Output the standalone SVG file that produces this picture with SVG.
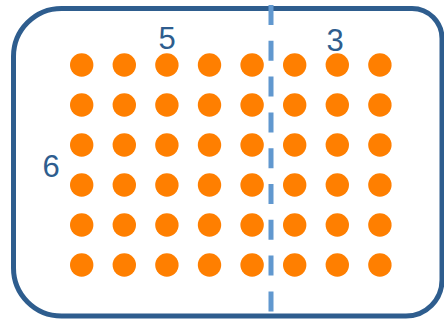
<svg xmlns="http://www.w3.org/2000/svg" width="444" height="320" viewBox="0 0 444 320">
<defs>
<style>
.frame{fill:none;stroke:#2e5d8e;stroke-width:5}
.div{fill:none;stroke:#6198cf;stroke-width:5;stroke-dasharray:20 15.8}
.dot{fill:#ff7f00}
.lbl{font-family:"Liberation Sans",Arial,sans-serif;font-size:31px;fill:#2e5d8e;text-anchor:middle}
</style>
<circle id="d" class="dot" cx="0" cy="0" r="11.7"/>
</defs>
<rect width="444" height="320" fill="#ffffff"/>
<g id="frame">
<path class="frame" d="M61.5 8.5H412A30 30 0 0 1 442 38.5V280A36 36 0 0 1 406 316H61.5A48 48 0 0 1 13.5 268V56.5A48 48 0 0 1 61.5 8.5Z"/>
</g>
<g id="dots">
<g transform="translate(0,65)"><use href="#d" x="81.7"/><use href="#d" x="124.3"/><use href="#d" x="166.9"/><use href="#d" x="209.5"/><use href="#d" x="252.1"/><use href="#d" x="294.7"/><use href="#d" x="337.3"/><use href="#d" x="379.9"/></g>
<g transform="translate(0,105)"><use href="#d" x="81.7"/><use href="#d" x="124.3"/><use href="#d" x="166.9"/><use href="#d" x="209.5"/><use href="#d" x="252.1"/><use href="#d" x="294.7"/><use href="#d" x="337.3"/><use href="#d" x="379.9"/></g>
<g transform="translate(0,145)"><use href="#d" x="81.7"/><use href="#d" x="124.3"/><use href="#d" x="166.9"/><use href="#d" x="209.5"/><use href="#d" x="252.1"/><use href="#d" x="294.7"/><use href="#d" x="337.3"/><use href="#d" x="379.9"/></g>
<g transform="translate(0,185)"><use href="#d" x="81.7"/><use href="#d" x="124.3"/><use href="#d" x="166.9"/><use href="#d" x="209.5"/><use href="#d" x="252.1"/><use href="#d" x="294.7"/><use href="#d" x="337.3"/><use href="#d" x="379.9"/></g>
<g transform="translate(0,225)"><use href="#d" x="81.7"/><use href="#d" x="124.3"/><use href="#d" x="166.9"/><use href="#d" x="209.5"/><use href="#d" x="252.1"/><use href="#d" x="294.7"/><use href="#d" x="337.3"/><use href="#d" x="379.9"/></g>
<g transform="translate(0,265)"><use href="#d" x="81.7"/><use href="#d" x="124.3"/><use href="#d" x="166.9"/><use href="#d" x="209.5"/><use href="#d" x="252.1"/><use href="#d" x="294.7"/><use href="#d" x="337.3"/><use href="#d" x="379.9"/></g>
</g>
<g id="divider">
<line class="div" x1="271" y1="5" x2="271" y2="316"/>
</g>
<g id="labels">
<text class="lbl" x="167" y="49">5</text>
<text class="lbl" x="335" y="51">3</text>
<text class="lbl" x="51" y="177">6</text>
</g>
</svg>
